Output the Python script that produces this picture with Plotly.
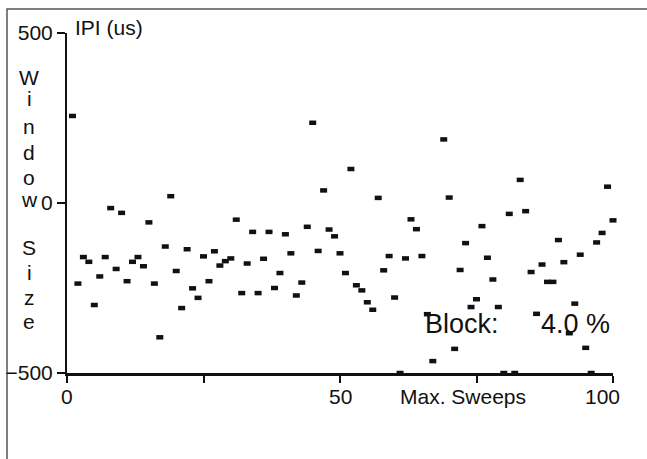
import plotly.graph_objects as go

sweeps = list(range(1, 101))
ipi = [256, -237, -159, -173, -300, -216, -159, -15, -194, -29,
       -230, -173, -159, -186, -57, -237, -395, -128, 20, -200,
       -309, -136, -251, -279, -157, -230, -142, -184, -171, -163,
       -49, -265, -178, -85, -265, -164, -85, -250, -206, -92,
       -148, -272, -234, -70, 236, -141, 37, -78, -98, -148,
       -206, 100, -242, -257, -292, -314, 15, -198, -156, -278,
       -500, -163, -48, -77, -156, -327, -465, None, 187, 16,
       -429, -197, -118, -306, -283, -68, -161, -225, -306, -500,
       -32, -500, 68, -24, -203, -326, -181, -232, -232, -109,
       -174, -383, -296, -152, -426, -500, -116, -88, 48, -51]

y_ticks = [-500, 0, 500]
x_ticks = [0, 25, 50, 75, 100]
x_labels = ["0", "50", "100"]
x_label_pos = [0, 50, 98]
y_title_letters = ["W", "i", "n", "d", "o", "w", "S", "i", "z", "e"]
block_label = "Block:"
block_value = "4.0 %"

W, H = 647, 459
L, R, T, B = 67, 34, 33, 86
PW, PH = W - L - R, H - T - B

def px(xp):
    return (xp - L) / PW

def py(yp):
    return (H - B - yp) / PH

FONT = "Liberation Sans, Arial, sans-serif"
INK = "#111"

fig = go.Figure()
fig.add_trace(go.Scatter(
    x=sweeps, y=ipi, mode="markers", cliponaxis=False,
    marker=dict(symbol="line-ew", size=5, color=INK,
                line=dict(color=INK, width=4.5)),
    showlegend=False))

ann = []
ann.append(dict(text="IPI (us)", xref="paper", yref="paper", x=px(73), y=py(27),
                xanchor="left", yanchor="middle", showarrow=False,
                font=dict(size=21, color=INK, family=FONT)))
letter_y = [77, 99, 126, 152, 177, 199, 247, 272, 297, 321]
for ch, yy in zip(y_title_letters, letter_y):
    ann.append(dict(text=ch, xref="paper", yref="paper", x=px(29), y=py(yy),
                    xanchor="center", yanchor="middle", showarrow=False,
                    font=dict(size=21, color=INK, family=FONT)))
for lab, xv in zip(x_labels, x_label_pos):
    ann.append(dict(text=lab, xref="x", yref="paper", x=xv, y=py(396),
                    xanchor="center", yanchor="middle", showarrow=False,
                    font=dict(size=21, color=INK, family=FONT)))
ann.append(dict(text="Max. Sweeps", xref="paper", yref="paper", x=px(463), y=py(396),
                xanchor="center", yanchor="middle", showarrow=False,
                font=dict(size=21, color=INK, family=FONT)))
ann.append(dict(text=block_label, xref="paper", yref="paper", x=px(462), y=py(324),
                xanchor="center", yanchor="middle", showarrow=False,
                font=dict(size=27, color=INK, family=FONT)))
ann.append(dict(text=block_value, xref="paper", yref="paper", x=px(575), y=py(324),
                xanchor="center", yanchor="middle", showarrow=False,
                font=dict(size=27, color=INK, family=FONT)))

fig.update_layout(
    width=W, height=H,
    margin=dict(l=L, r=R, t=T, b=B, pad=0, autoexpand=False),
    paper_bgcolor="white", plot_bgcolor="white",
    annotations=ann,
    shapes=[dict(type="rect", xref="paper", yref="paper",
                 x0=px(7), x1=px(700), y0=py(520), y1=py(9),
                 line=dict(color="#555", width=1.5), fillcolor="rgba(0,0,0,0)",
                 layer="below")],
    xaxis=dict(range=[0, 100], tickvals=x_ticks, showticklabels=False,
               ticks="outside", ticklen=7, tickwidth=1.5, tickcolor=INK,
               showline=True, linecolor=INK, linewidth=3, automargin=False,
               showgrid=False, zeroline=False, fixedrange=True),
    yaxis=dict(range=[-500, 500], tickvals=y_ticks, automargin=False,
               ticks="outside", ticklen=8, tickwidth=1.5, tickcolor=INK,
               showline=True, linecolor=INK, linewidth=2,
               showgrid=False, zeroline=False, fixedrange=True,
               tickfont=dict(size=21, color=INK, family=FONT)),
)

fig.write_html("out.html", config={"displayModeBar": False},
               post_script="document.body.style.margin='0';document.body.style.overflow='hidden';")
